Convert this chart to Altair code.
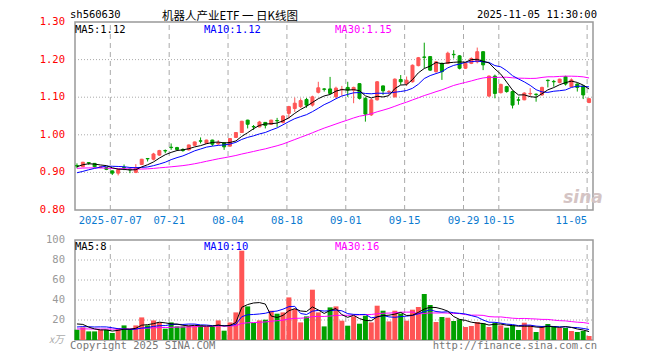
import math
import altair as alt
import pandas as pd

# ---------------- data ----------------
opens = [0.918, 0.915, 0.926, 0.924, 0.913, 0.913, 0.904, 0.898, 0.913, 0.909,
         0.900, 0.921, 0.937, 0.935, 0.946, 0.958, 0.967, 0.966, 0.961, 0.960,
         0.972, 0.984, 0.977, 0.986, 0.976, 0.979, 0.970, 0.993, 1.006, 1.039,
         1.022, 1.021, 1.033, 1.028, 1.038, 1.033, 1.057, 1.070, 1.075, 1.094,
         1.079, 1.113, 1.122, 1.122, 1.101, 1.120, 1.126, 1.119, 1.136, 1.097,
         1.053, 1.093, 1.130, 1.114, 1.101, 1.147, 1.136, 1.141, 1.184, 1.207,
         1.208, 1.168, 1.190, 1.190, 1.214, 1.210, 1.177, 1.190, 1.194, 1.221,
         1.103, 1.156, 1.112, 1.128, 1.115, 1.093, 1.093, 1.109, 1.108, 1.106,
         1.145, 1.142, 1.139, 1.155, 1.128, 1.135, 1.130, 1.086]
closes = [0.917, 0.927, 0.925, 0.915, 0.915, 0.908, 0.898, 0.907, 0.912, 0.907,
          0.912, 0.935, 0.936, 0.949, 0.958, 0.957, 0.966, 0.961, 0.958, 0.973,
          0.981, 0.983, 0.986, 0.975, 0.979, 0.968, 0.990, 1.006, 1.036, 1.028,
          1.021, 1.034, 1.025, 1.039, 1.037, 1.050, 1.075, 1.084, 1.091, 1.079,
          1.101, 1.125, 1.121, 1.110, 1.124, 1.121, 1.119, 1.126, 1.097, 1.055,
          1.093, 1.141, 1.117, 1.115, 1.148, 1.141, 1.145, 1.185, 1.205, 1.206,
          1.172, 1.194, 1.168, 1.217, 1.213, 1.177, 1.190, 1.203, 1.221, 1.186,
          1.156, 1.110, 1.134, 1.115, 1.079, 1.092, 1.111, 1.110, 1.107, 1.126,
          1.144, 1.141, 1.148, 1.135, 1.146, 1.126, 1.106, 1.096]
highs = [0.924, 0.928, 0.927, 0.925, 0.916, 0.914, 0.905, 0.908, 0.921, 0.911,
         0.922, 0.936, 0.938, 0.952, 0.960, 0.961, 0.977, 0.968, 0.964, 0.974,
         0.982, 0.993, 0.987, 0.987, 0.986, 0.980, 0.991, 1.007, 1.037, 1.040,
         1.026, 1.037, 1.034, 1.040, 1.045, 1.052, 1.077, 1.099, 1.097, 1.098,
         1.104, 1.141, 1.124, 1.154, 1.128, 1.130, 1.141, 1.128, 1.137, 1.100,
         1.097, 1.143, 1.131, 1.119, 1.150, 1.159, 1.155, 1.187, 1.207, 1.245,
         1.209, 1.196, 1.192, 1.221, 1.225, 1.212, 1.192, 1.206, 1.232, 1.222,
         1.158, 1.160, 1.136, 1.130, 1.118, 1.101, 1.113, 1.124, 1.110, 1.128,
         1.147, 1.146, 1.149, 1.157, 1.150, 1.137, 1.131, 1.098]
lows = [0.911, 0.914, 0.920, 0.913, 0.911, 0.906, 0.893, 0.892, 0.906, 0.898,
        0.898, 0.920, 0.929, 0.932, 0.944, 0.951, 0.960, 0.960, 0.955, 0.958,
        0.970, 0.977, 0.976, 0.970, 0.973, 0.960, 0.968, 0.992, 1.005, 1.017,
        1.013, 1.020, 1.017, 1.026, 1.021, 1.030, 1.043, 1.061, 1.071, 1.072,
        1.075, 1.110, 1.115, 1.108, 1.097, 1.104, 1.101, 1.084, 1.094, 1.035,
        1.050, 1.091, 1.106, 1.106, 1.099, 1.133, 1.130, 1.139, 1.182, 1.177,
        1.170, 1.165, 1.146, 1.188, 1.203, 1.174, 1.175, 1.188, 1.190, 1.172,
        1.100, 1.097, 1.110, 1.112, 1.070, 1.080, 1.092, 1.103, 1.088, 1.104,
        1.126, 1.128, 1.137, 1.131, 1.127, 1.115, 1.095, 1.084]
volumes = [10.3, 12.6, 8.6, 8.6, 10.3, 10.3, 7.0, 12.0, 14.6, 10.3,
           14.6, 22.6, 14.6, 19.6, 17.6, 11.3, 17.6, 13.6, 13.6, 14.3,
           14.3, 14.6, 13.0, 13.6, 19.6, 9.3, 17.6, 27.6, 89.3, 33.6,
           17.0, 19.6, 20.3, 29.3, 26.3, 27.6, 42.6, 31.0, 17.6, 23.6,
           50.3, 27.6, 13.6, 32.6, 33.6, 19.3, 14.3, 23.6, 16.3, 24.3,
           17.6, 34.3, 29.3, 18.6, 29.3, 26.3, 19.3, 30.3, 33.0, 46.0,
           35.0, 18.0, 23.0, 22.3, 19.0, 20.7, 13.0, 14.0, 18.0, 16.7,
           13.0, 17.3, 14.7, 12.3, 14.7, 10.0, 17.3, 14.7, 8.0, 13.0,
           16.0, 14.0, 12.0, 12.0, 9.0, 8.0, 9.0, 4.0]
# closes / volumes of the 29 sessions before the visible window (feed the moving averages)
prior_closes = [0.905, 0.910, 0.915, 0.920, 0.925, 0.922, 0.918, 0.921, 0.926, 0.930,
                0.925, 0.920, 0.915, 0.912, 0.918, 0.922, 0.915, 0.910, 0.905, 0.900,
                0.890, 0.882, 0.878, 0.880, 0.885, 0.900, 0.912, 0.920, 0.926]
prior_volumes = [9, 11, 10, 12, 8, 10, 9, 11, 10, 12, 10, 9, 11, 8, 10, 12, 9, 10, 11, 8,
                 9, 10, 11, 9, 11, 15, 22, 18, 15]

date_labels = ["2025-07-07", "07-21", "08-04", "08-18", "09-01", "09-15", "09-29", "10-15", "11-05"]
date_index = [6, 16, 26, 36, 46, 56, 66, 72, 87]
price_ticks = [1.30, 1.20, 1.10, 1.00, 0.90, 0.80]
price_grid = [1.20, 1.10, 1.00, 0.90]
vol_ticks = [100, 80, 60, 40, 20]
vol_grid = [80, 60, 40, 20]

# ---------------- tables ----------------
n = len(closes)


def moving(prior, values, w):
    full = prior + values
    p = len(prior)
    return [sum(full[p + k - w + 1:p + k + 1]) / w for k in range(len(values))]


df = pd.DataFrame({
    "i": list(range(n)),
    "open": opens, "close": closes, "high": highs, "low": lows, "vol": volumes,
})
df["dir"] = ["up" if c >= o else "down" for o, c in zip(opens, closes)]
for w in (5, 10, 30):
    df[f"ma{w}"] = moving(prior_closes, closes, w)
    df[f"vma{w}"] = moving(prior_volumes, volumes, w)


def trunc2(v):
    return "%.2f" % (math.floor(v * 100 + 1e-9) / 100)


grid_df = pd.DataFrame({"label": date_labels, "idx": date_index})
grid_df["gx"] = grid_df["idx"] - 1 / 3

RED = "#FF5555"
GREEN = "#00A000"
MONO = "DejaVu Sans Mono"

XMIN, XMAX = -1 / 3, 88 - 1 / 3
xs = alt.Scale(domain=[XMIN, XMAX], nice=False, zero=False)
ps = alt.Scale(domain=[0.80, 1.30], range=[188, 0], nice=False, zero=False)
vs = alt.Scale(domain=[0, 100], range=[318, 218], nice=False, zero=False)

X = lambda f: alt.X(f, type="quantitative", scale=xs, axis=None)
YP = lambda f: alt.Y(f, type="quantitative", scale=ps, axis=None)
YV = lambda f: alt.Y(f, type="quantitative", scale=vs, axis=None)
col = alt.Scale(domain=["up", "down"], range=[RED, GREEN])

base = alt.Chart(df)
layers = []

# frames
layers.append(alt.Chart(pd.DataFrame({"a": [0]})).mark_rect(fill="transparent", stroke="#999999", strokeWidth=1.5).encode(
    x=alt.X(datum=XMIN, scale=xs, axis=None), x2=alt.X2(datum=XMAX),
    y=alt.Y(datum=0.80, scale=ps, axis=None), y2=alt.Y2(datum=1.30)))
layers.append(alt.Chart(pd.DataFrame({"a": [0]})).mark_rect(fill="transparent", stroke="#999999", strokeWidth=1.5).encode(
    x=alt.X(datum=XMIN, scale=xs, axis=None), x2=alt.X2(datum=XMAX),
    y=alt.Y(datum=0, scale=vs, axis=None), y2=alt.Y2(datum=100)))

# grids
layers.append(alt.Chart(pd.DataFrame({"v": price_grid})).mark_rule(color="#aaaaaa", strokeDash=[1, 2]).encode(
    y=YP("v"), x=alt.X(datum=XMIN, scale=xs, axis=None), x2=alt.X2(datum=XMAX)))
layers.append(alt.Chart(pd.DataFrame({"v": vol_grid})).mark_rule(color="#aaaaaa", strokeDash=[1, 2]).encode(
    y=YV("v"), x=alt.X(datum=XMIN, scale=xs, axis=None), x2=alt.X2(datum=XMAX)))
layers.append(alt.Chart(grid_df).mark_rule(color="#aaaaaa", strokeDash=[5, 4]).encode(
    x=X("gx"), y=alt.Y(datum=0.80, scale=ps, axis=None), y2=alt.Y2(datum=1.30)))
layers.append(alt.Chart(grid_df).mark_rule(color="#aaaaaa", strokeDash=[5, 4]).encode(
    x=X("gx"), y=alt.Y(datum=0, scale=vs, axis=None), y2=alt.Y2(datum=100)))

# watermark
layers.append(alt.Chart(pd.DataFrame({"t": ["sina"]})).mark_text(
    x=513, y=176, fontSize=17, fontWeight="bold", fontStyle="italic", font="DejaVu Sans",
    color="#d4c4c4").encode(text="t:N"))

# candles
layers.append(base.mark_rule(strokeWidth=1).encode(
    x=X("i"), y=YP("low"), y2="high",
    stroke=alt.Stroke("dir:N", scale=col, legend=None)))
layers.append(base.mark_bar(size=3, strokeWidth=1).encode(
    x=X("i"), y=YP("open"), y2="close",
    fill=alt.Fill("dir:N", scale=col, legend=None),
    stroke=alt.Stroke("dir:N", scale=col, legend=None)))

# price moving averages
for f, c in (("ma30", "#FF00FF"), ("ma10", "#0000FF"), ("ma5", "#000000")):
    layers.append(base.mark_line(color=c, strokeWidth=1).encode(x=X("i"), y=YP(f)))

# volume bars
layers.append(base.mark_bar(size=5).encode(
    x=X("i"), y=YV("vol"), y2=alt.Y2(datum=0),
    fill=alt.Fill("dir:N", scale=col, legend=None)))
for f, c in (("vma30", "#FF00FF"), ("vma10", "#0000FF"), ("vma5", "#000000")):
    layers.append(base.mark_line(color=c, strokeWidth=1).encode(x=X("i"), y=YV(f)))

# axis labels
layers.append(alt.Chart(pd.DataFrame({"v": price_ticks})).mark_text(
    align="right", baseline="middle", x=-5, font=MONO, fontSize=10.5, color="#FF0000").encode(
    y=YP("v"), text=alt.Text("v:Q", format=".2f")))
layers.append(alt.Chart(pd.DataFrame({"v": vol_ticks})).mark_text(
    align="right", baseline="middle", x=-5, font=MONO, fontSize=10.5, color="#999999").encode(
    y=YV("v"), text=alt.Text("v:Q", format="d")))
layers.append(alt.Chart(pd.DataFrame({"t": ["x万"]})).mark_text(
    align="right", baseline="middle", x=-6, font="Noto Sans CJK SC", fontSize=10, fontStyle="italic",
    color="#aaaaaa").encode(y=alt.Y(datum=0, scale=vs, axis=None), text="t:N"))
layers.append(alt.Chart(grid_df.iloc[:-1]).mark_text(
    align="center", baseline="middle", y=199, font=MONO, fontSize=10.5, color="#0A7AD0").encode(
    x=X("gx"), text="label:N"))
layers.append(alt.Chart(grid_df.iloc[-1:]).mark_text(
    align="right", baseline="middle", y=199, font=MONO, fontSize=10.5, color="#0A7AD0").encode(
    x=X("gx"), text="label:N"))

# header / footer / legends texts
def label(txt, x, y, color="#000000", align="left", size=10.5, font=MONO):
    return alt.Chart(pd.DataFrame({"t": [txt]})).mark_text(
        x=x, y=y, align=align, baseline="middle", fontSize=size, font=font, color=color).encode(text="t:N")


layers += [
    label("sh560630", 0, -7),
    label("机器人产业ETF 一 日K线图", 160, -5, align="center", size=11.5, font="Noto Sans CJK SC"),
    label("2025-11-05 11:30:00", 527, -7, align="right"),
    label("MA5:" + trunc2(df["ma5"].iloc[-1]), 5, 7.5),
    label("MA10:" + trunc2(df["ma10"].iloc[-1]), 134, 7.5, color="#0000FF"),
    label("MA30:" + trunc2(df["ma30"].iloc[-1]), 265, 7.5, color="#FF00FF"),
    label("MA5:%d" % int(df["vma5"].iloc[-1]), 5, 224.5),
    label("MA10:%d" % int(df["vma10"].iloc[-1]), 134, 224.5, color="#0000FF"),
    label("MA30:%d" % int(df["vma30"].iloc[-1]), 265, 224.5, color="#FF00FF"),
    label("Copyright 2025 SINA.COM", 0, 324, color="#777777"),
    label("http://finance.sina.com.cn", 527, 324, color="#777777", align="right"),
]

chart = alt.layer(*layers).resolve_scale(y="independent").properties(
    width=528, height=320,
    padding={"left": 62, "top": 14, "right": 54, "bottom": 16},
    autosize=alt.AutoSizeParams(type="none"),
).configure_view(stroke=None)

chart.save("out.html", embed_options={"renderer": "svg", "actions": False})
